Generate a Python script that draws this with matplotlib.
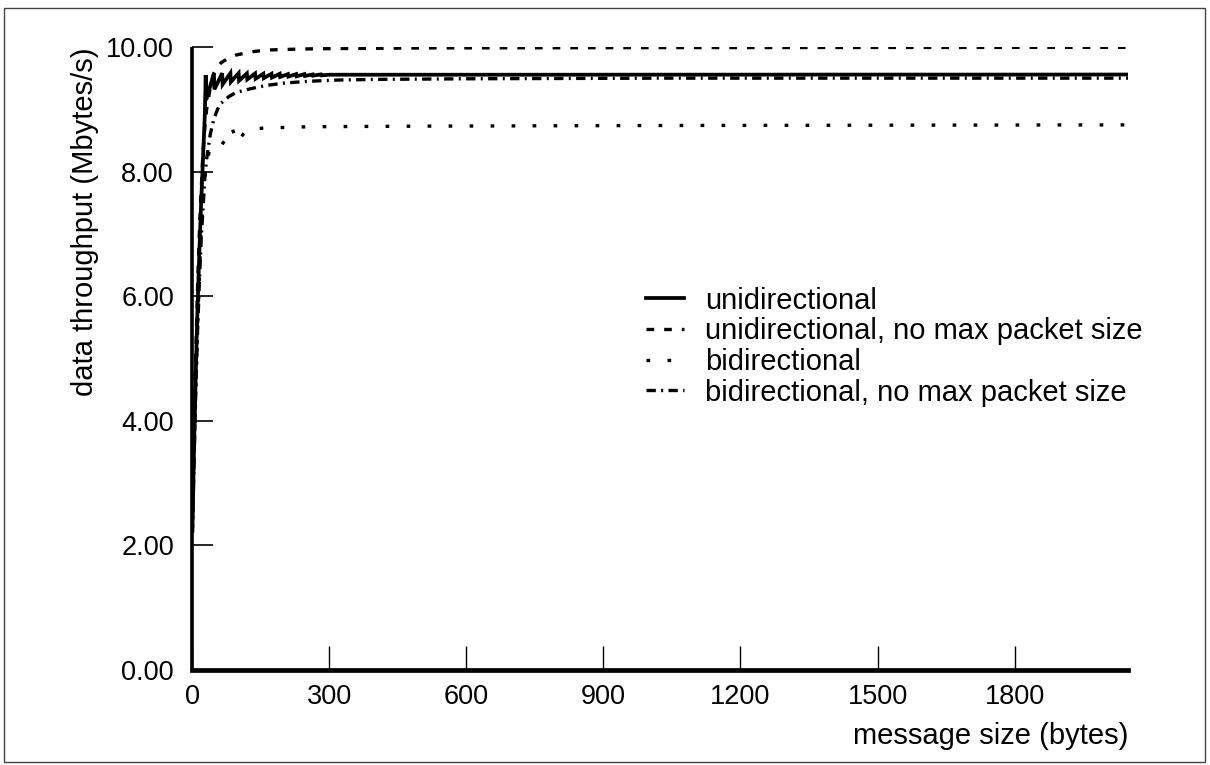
import matplotlib
matplotlib.use("Agg")
import matplotlib.pyplot as plt
from matplotlib.patches import Rectangle

plt.rcParams['font.family'] = ['Liberation Sans', 'DejaVu Sans']

# ---- data ----
x_uni = [1, 4, 8, 12, 16, 20, 24, 28, 30, 31, 48, 49, 66, 67, 84, 85, 102, 103,
         120, 121, 138, 139, 156, 157, 174, 175, 192, 193, 210, 211, 228, 229,
         246, 247, 264, 265, 282, 283, 300, 400, 600, 800, 1000, 1200, 1400,
         1600, 1800, 2048]
y_uni = [2.3, 3.4, 4.7, 5.8, 6.7, 7.5, 8.2, 8.9, 9.55, 9.15, 9.58, 9.32, 9.58,
         9.40, 9.58, 9.44, 9.58, 9.46, 9.575, 9.48, 9.575, 9.49, 9.57, 9.50,
         9.57, 9.51, 9.57, 9.52, 9.565, 9.525, 9.565, 9.53, 9.565, 9.535, 9.56,
         9.54, 9.56, 9.545, 9.555, 9.555, 9.555, 9.555, 9.556, 9.556, 9.557,
         9.557, 9.557, 9.558]

x_uni_nomax = [1, 4, 8, 12, 16, 20, 24, 28, 32, 40, 48, 56, 64, 80, 96, 128,
               160, 200, 256, 320, 512, 1024, 2048]
y_uni_nomax = [2.4, 3.6, 5.0, 6.1, 7.0, 7.7, 8.3, 8.7, 9.0, 9.35, 9.58, 9.68,
               9.75, 9.82, 9.87, 9.92, 9.95, 9.96, 9.97, 9.975, 9.985, 9.99,
               9.995]

x_bi = [1, 4, 8, 12, 16, 20, 24, 28, 32, 40, 48, 56, 64, 72, 88, 96, 100, 112,
        124, 160, 256, 512, 1024, 2048]
y_bi = [2.2, 3.3, 4.5, 5.5, 6.3, 7.0, 7.5, 7.9, 8.15, 8.38, 8.42, 8.42, 8.42,
        8.5, 8.7, 8.5, 8.47, 8.6, 8.68, 8.7, 8.72, 8.73, 8.74, 8.75]

x_bi_nomax = [1, 4, 8, 12, 16, 20, 24, 28, 32, 40, 48, 56, 64, 80, 96, 128,
              160, 200, 256, 320, 400, 600, 1024, 2048]
y_bi_nomax = [2.2, 3.2, 4.4, 5.4, 6.2, 6.9, 7.4, 7.9, 8.2, 8.6, 8.85, 9.0, 9.1,
              9.2, 9.27, 9.33, 9.38, 9.42, 9.45, 9.47, 9.48, 9.49, 9.5, 9.5]

labels = ["unidirectional", "unidirectional, no max packet size",
          "bidirectional", "bidirectional, no max packet size"]
y_ticks = [0, 2, 4, 6, 8, 10]
y_ticklabels = ["0.00", "2.00", "4.00", "6.00", "8.00", "10.00"]
x_ticks = [0, 300, 600, 900, 1200, 1500, 1800]
x_ticklabels = ["0", "300", "600", "900", "1200", "1500", "1800"]

W, H = 1210, 765
FS_TICK = 19.5
FS_TEXT = 21
fig = plt.figure(figsize=(W / 100, H / 100), dpi=100)
fig.patch.set_facecolor('white')

# outer frame
fig.patches.append(Rectangle((4 / W, 3 / H), 1201 / W, 754 / H,
                             transform=fig.transFigure, fill=False,
                             edgecolor='#444444', linewidth=1.0))

ax_l, ax_r, ax_t, ax_b = 192, 1128, 47, 670
ax = fig.add_axes([ax_l / W, 1 - ax_b / H, (ax_r - ax_l) / W, (ax_b - ax_t) / H])

lw = 2.4
ax.plot(x_uni, y_uni, color='black', lw=lw + 0.3, linestyle='-',
        solid_joinstyle='miter', label=labels[0])
ax.plot(x_uni_nomax, y_uni_nomax, color='black', lw=lw,
        linestyle=(0, (2.3, 3.0)), label=labels[1])
ax.plot(x_bi, y_bi, color='black', lw=lw,
        linestyle=(0, (1.1, 5.2)), label=labels[2])
ax.plot(x_bi_nomax, y_bi_nomax, color='black', lw=lw,
        linestyle=(0, (2.8, 1.6, 0.6, 1.6)), label=labels[3])

ax.set_xlim(0, 2048)
ax.set_ylim(0, 10)
ax.spines['top'].set_visible(False)
ax.spines['right'].set_visible(False)
ax.spines['left'].set_linewidth(2.6)
ax.spines['bottom'].set_linewidth(3.4)
ax.spines['left'].set_capstyle('butt')

ax.set_yticks(y_ticks)
ax.set_yticklabels(y_ticklabels)
ax.set_xticks(x_ticks)
ax.set_xticklabels(x_ticklabels)
ax.tick_params(axis='y', direction='in', length=15, width=1.2, pad=13,
               labelsize=FS_TICK)
ax.tick_params(axis='x', direction='in', length=17, width=1.0, pad=10,
               labelsize=FS_TICK)
# short outward stubs
ax.set_yticks(y_ticks, minor=True)
ax.tick_params(axis='y', which='minor', direction='out', length=6, width=1.2)
ax.set_xticks([0], minor=True)
ax.tick_params(axis='x', which='minor', direction='out', length=5, width=1.0)

ax.set_ylabel("data throughput (Mbytes/s)", fontsize=FS_TEXT, loc='top',
              labelpad=5)
ax.set_xlabel("message size (bytes)", fontsize=FS_TEXT, loc='right',
              labelpad=9)

leg = ax.legend(loc='upper left', bbox_to_anchor=((634 - ax_l) / (ax_r - ax_l),
                                                  1 - (275 - ax_t) / (ax_b - ax_t)),
                frameon=False, fontsize=FS_TEXT, handlelength=1.3,
                handletextpad=0.75, labelspacing=0.09, borderaxespad=0)

fig.savefig("out.png", dpi=100, facecolor='white')
